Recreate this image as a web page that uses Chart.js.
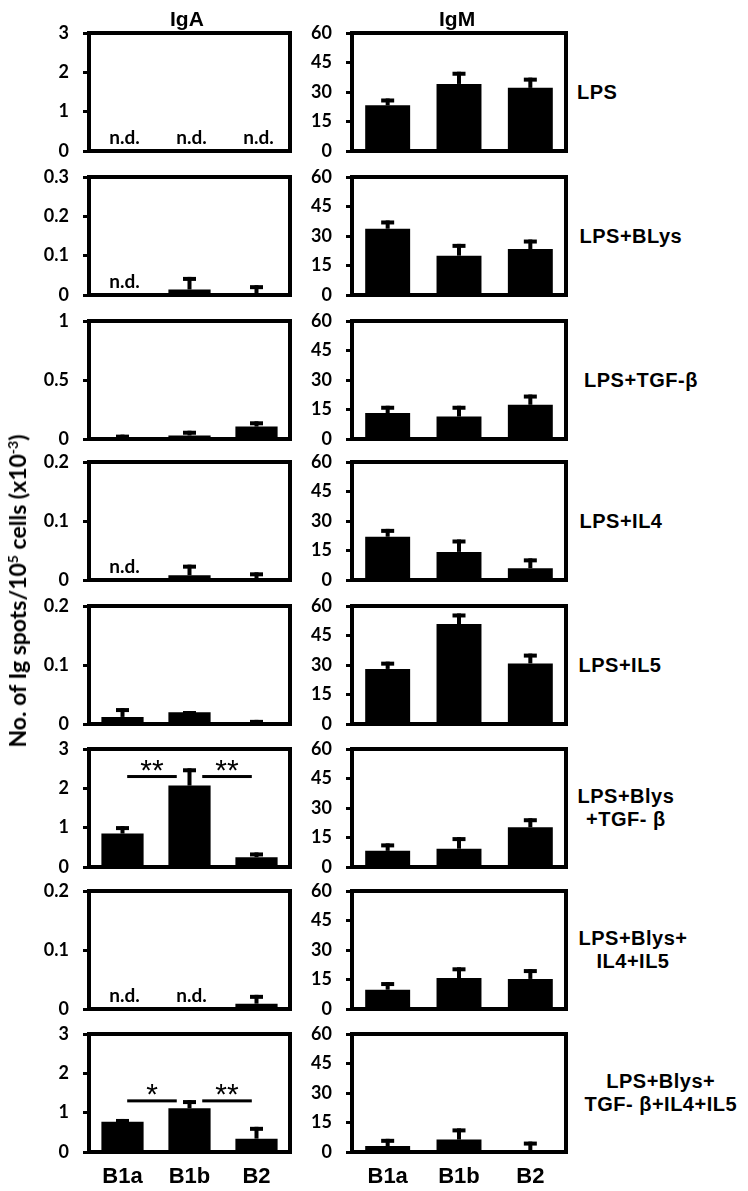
<!DOCTYPE html>
<html>
<head>
<meta charset="utf-8">
<script src="https://cdn.jsdelivr.net/npm/chart.js@4.4.1/dist/chart.umd.min.js"></script>
<style>
  body { margin: 0; background: #fff; }
  #fig { position: relative; width: 748px; height: 1191px; background: #fff; overflow: hidden; }
  #fig canvas { position: absolute; }
  .lbl { position: absolute; font-family: "Liberation Sans", Arial, sans-serif; font-weight: bold;
         color: #000; white-space: pre; text-align: center; line-height: 23px; }
  .ytitle { position: absolute; font-family: Lato, sans-serif; font-weight: bold; font-size: 23px;
            white-space: nowrap; transform: translate(-50%, -50%) rotate(-90deg); }
  .ytitle sup { font-size: 14px; vertical-align: 8px; line-height: 0; }
</style>
</head>
<body>
<div id="fig"></div>
<script>
// categories and conditions
const categories = ["B1a", "B1b", "B2"];
const conditions = ["LPS", "LPS+BLys", "LPS+TGF-β", "LPS+IL4", "LPS+IL5",
                    "LPS+Blys\n+TGF- β", "LPS+Blys+\nIL4+IL5", "LPS+Blys+\nTGF- β+IL4+IL5"];

// IgA panels: axis max / step per row, means (null = n.d.) and upper error
const igaMax = [3, 0.3, 1, 0.2, 0.2, 3, 0.2, 3];
const igaStep = [1, 0.1, 0.5, 0.1, 0.1, 1, 0.1, 1];
const igaMean = [
  [null, null, null],
  [null, 0.014, 0.005],
  [0.002, 0.03, 0.105],
  [null, 0.008, 0.002],
  [0.012, 0.02, 0.002],
  [0.85, 2.07, 0.25],
  [null, null, 0.009],
  [0.77, 1.11, 0.34]
];
const igaErr = [
  [0, 0, 0],
  [0, 0.032, 0.02],
  [0.035, 0.04, 0.045],
  [0, 0.018, 0.011],
  [0.015, 0.002, 0.005],
  [0.19, 0.44, 0.12],
  [0, 0, 0.015],
  [0.07, 0.21, 0.3]
];
// significance brackets: [from, to, level, mark]
const igaSig = [[], [], [], [], [],
  [[0, 1, 2.3, "**"], [1, 2, 2.3, "**"]],
  [],
  [[0, 1, 1.3, "*"], [1, 2, 1.3, "**"]]];

// IgM panels
const igmMax = 60;
const igmStep = 15;
const igmMean = [
  [23.2, 34.1, 32.1],
  [33.7, 20, 23.4],
  [13.2, 11.4, 17.4],
  [22, 14.3, 6],
  [28, 50.8, 30.8],
  [8.2, 9.3, 20.2],
  [9.8, 15.7, 15.3],
  [3, 6.3, 0.3]
];
const igmErr = [
  [3.5, 6.2, 5.2],
  [4.2, 6, 4.8],
  [3.7, 5.5, 5.2],
  [4, 6.3, 5],
  [3.7, 5.4, 5],
  [3.8, 5.9, 4.6],
  [3.9, 5.5, 5],
  [3.7, 5.7, 5]
];

// layout
const panelTop = [33, 177, 321, 462, 606, 749, 891, 1034];
const plotH = 118;
const padV = 14;
const xLabelH = 44;
const leftCol = { x: 0, w: 300, axisW: 89, padR: 10 };
const rightCol = { x: 300, w: 270, axisW: 52, padR: 4 };
const labelCx = [597, 631, 641, 621, 620, 626, 633, 661];

const fig = document.getElementById("fig");

// error bars, box frame, n.d. notes and significance lines
const panelDecor = {
  id: "panelDecor",
  afterDatasetsDraw(chart) {
    const ctx = chart.ctx;
    const ds = chart.data.datasets[0];
    const meta = chart.getDatasetMeta(0);
    const xs = chart.scales.x;
    const ys = chart.scales.y;
    const a = chart.chartArea;
    ctx.save();
    ctx.fillStyle = "#000";
    ctx.strokeStyle = "#000";

    ds.errors.forEach((e, i) => {
      const v = ds.data[i];
      if (v === null || !e) return;
      const cx = meta.data[i].x;
      const yBase = ys.getPixelForValue(v);
      const yTop = ys.getPixelForValue(v + e);
      ctx.fillRect(cx - 2, yTop, 4, yBase - yTop);
      ctx.fillRect(cx - 6.5, yTop, 13, 4);
    });

    ctx.lineWidth = 4;
    ctx.strokeRect(a.left, a.top, a.right - a.left, a.bottom - a.top);

    ctx.textAlign = "center";
    ctx.textBaseline = "alphabetic";
    ctx.font = "bold 19px Lato";
    ds.data.forEach((v, i) => {
      if (v === null) ctx.fillText("n.d.", xs.getPixelForValue(i) + 2, a.bottom - 7);
    });

    ds.sig.forEach(([from, to, level, mark]) => {
      const x1 = xs.getPixelForValue(from + (from === 1 ? 0.19 : 0.07));
      const x2 = xs.getPixelForValue(to - (to === 1 ? 0.19 : 0.07));
      const ly = ys.getPixelForValue(level);
      ctx.fillRect(x1, ly - 1.5, x2 - x1, 3);
      ctx.font = "30px 'Liberation Sans'";
      ctx.fillText(mark, (x1 + x2) / 2, ly + 3);
    });
    ctx.restore();
  }
};

function makePanel(col, row, mean, err, max, step, sig) {
  const isLast = row === conditions.length - 1;
  const cv = document.createElement("canvas");
  cv.width = col.w;
  cv.height = padV + plotH + (isLast ? xLabelH : padV);
  cv.style.left = col.x + "px";
  cv.style.top = (panelTop[row] - padV) + "px";
  fig.appendChild(cv);

  new Chart(cv, {
    type: "bar",
    data: {
      labels: categories,
      datasets: [{
        data: mean,
        errors: err,
        sig: sig,
        backgroundColor: "#000",
        borderWidth: 0,
        barPercentage: 0.63,
        categoryPercentage: 1
      }]
    },
    options: {
      responsive: false,
      animation: false,
      events: [],
      layout: { padding: { top: padV, bottom: isLast ? 0 : padV, left: 0, right: col.padR } },
      plugins: { legend: { display: false }, tooltip: { enabled: false } },
      scales: {
        x: {
          grid: { display: false, drawTicks: false },
          border: { display: false },
          ticks: {
            display: isLast,
            color: "#000",
            padding: 12,
            font: { family: "Liberation Sans", weight: "bold", size: 22 }
          },
          afterFit: s => { s.height = isLast ? xLabelH : 0; s.paddingLeft = 0; s.paddingRight = 0; }
        },
        y: {
          min: 0,
          max: max,
          ticks: {
            stepSize: step,
            color: "#000",
            padding: 14,
            font: { family: "Lato", weight: "bold", size: 18 },
            callback: v => String(+v.toFixed(2))
          },
          grid: { drawOnChartArea: false, tickLength: 6, lineWidth: 3, color: "#000" },
          border: { display: false },
          afterFit: s => { s.width = col.axisW; s.paddingTop = 0; s.paddingBottom = 0; }
        }
      }
    },
    plugins: [panelDecor]
  });
}

conditions.forEach((cond, r) => {
  makePanel(leftCol, r, igaMean[r], igaErr[r], igaMax[r], igaStep[r], igaSig[r]);
  makePanel(rightCol, r, igmMean[r], igmErr[r], igmMax, igmStep, []);

  const lab = document.createElement("div");
  lab.className = "lbl";
  lab.style.fontSize = "20px";
  lab.style.letterSpacing = "0.5px";
  lab.textContent = cond;
  fig.appendChild(lab);
  lab.style.left = (labelCx[r] - lab.offsetWidth / 2) + "px";
  lab.style.top = (panelTop[r] + plotH / 2 - lab.offsetHeight / 2) + "px";
});

// column titles
[["IgA", 187], ["IgM", 457]].forEach(([t, cx]) => {
  const d = document.createElement("div");
  d.className = "lbl";
  d.style.fontSize = "21px";
  d.textContent = t;
  fig.appendChild(d);
  d.style.left = (cx - d.offsetWidth / 2) + "px";
  d.style.top = (18 - d.offsetHeight / 2) + "px";
});

// shared y-axis title
const yt = document.createElement("div");
yt.className = "ytitle";
yt.innerHTML = "No. of Ig spots/10<sup>5</sup> cells (x10<sup>-3</sup>)";
yt.style.left = "17px";
yt.style.top = "591px";
fig.appendChild(yt);
</script>
</body>
</html>
